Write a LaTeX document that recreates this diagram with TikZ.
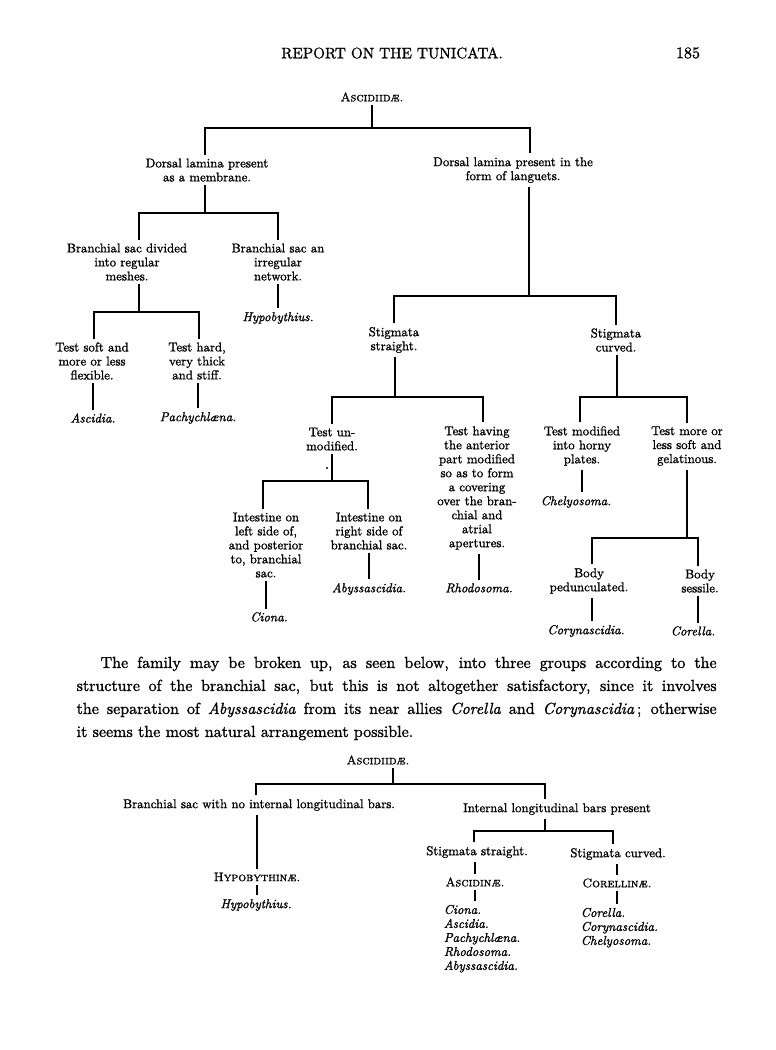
\documentclass[tikz,border=0pt]{standalone}
\usepackage{fontspec}
\setmainfont{lmroman10-regular.otf}[ItalicFont=lmroman10-italic.otf,
  SmallCapsFont=lmromancaps10-regular.otf, FakeBold=1.3]
\tikzset{
  lbl/.style={align=center, inner sep=3.2pt, font=\fontsize{12.8}{14}\selectfont},
  gen/.style={inner sep=3.2pt, font=\fontsize{12.8}{14}\selectfont\itshape},
  grp/.style={inner sep=3.2pt, font=\fontsize{12.4}{14}\selectfont\scshape},
}
\newcommand{\fork}[3]{
\draw (#2) |- (#1) -| (#3);}

\begin{document}
\begin{tikzpicture}[x=1pt, y=-1pt, line width=1.3pt]
\useasboundingbox (0,0) rectangle (776,1050);
\node (title) at (392,53) {\fontsize{15.2}{16}\selectfont REPORT ON THE TUNICATA.};
\node (page) at (688,53) {\fontsize{16}{17}\selectfont 185};

% first key
\node[grp] (asc) at (372,97) {Ascidiidæ.};
\coordinate (j1) at (372,128);
\node[lbl] (dm) at (207,170) {Dorsal lamina present\\as a membrane.};
\node[lbl] (dl) at (513,170) {Dorsal lamina present in the\\form of languets.};
\draw (asc.south) -- (j1);
\fork{j1}{[xshift=-2pt]dm.north}{[xshift=17pt]dl.north}

\coordinate (j2) at (205,213);
\node[lbl] (bs) at (127,262) {Branchial sac divided\\into regular\\meshes.};
\node[lbl] (bi) at (278,262) {Branchial sac an\\irregular\\network.};
\draw (dm.south -| j2) -- (j2);
\fork{j2}{[xshift=12pt]bs.north}{bi.north}
\node[gen] (hyp) at (278,318) {Hypobythius.};
\draw (bi.south) -- (bi.south |- hyp.north);

\coordinate (j3) at (139,312);
\node[lbl] (ts) at (92,361) {Test soft and\\more or less\\flexible.};
\node[lbl] (th) at (197,361) {Test hard,\\very thick\\and stiff.};
\draw (bs.south -| j3) -- (j3);
\fork{j3}{[xshift=2pt]ts.north}{[xshift=2pt]th.north}
\node[gen] (asci) at (93,418) {Ascidia.};
\node[gen] (pach) at (198,418) {Pachychlæna.};
\draw (asci.north) -- (asci.north |- ts.south);
\draw (pach.north) -- (pach.north |- th.south);

% languets side
\coordinate (j4) at (529,296);
\draw (dl.south -| j4) -- (j4);
\node[lbl] (ss) at (394,340) {Stigmata\\straight.};
\node[lbl] (sc) at (616,340) {Stigmata\\curved.};
\fork{j4}{ss.north}{sc.north}

\coordinate (j5) at (395,397);
\coordinate (j6) at (617,397);
\draw (ss.south -| j5) -- (j5);
\draw (sc.south -| j6) -- (j6);
\node[lbl] (tu) at (332,439) {Test un-\\modified.};
\node[lbl] (tha) at (477,488) {Test having\\the anterior\\part modified\\so as to form\\a covering\\over the bran-\\chial and\\atrial\\apertures.};
\fork{j5}{tu.north}{[xshift=6pt]tha.north}
\node[lbl] (tm) at (582,446) {Test modified\\into horny\\plates.};
\node[lbl] (tg) at (687,446) {Test more or\\less soft and\\gelatinous.};
\fork{j6}{[xshift=-2pt]tm.north}{tg.north}

\coordinate (j7) at (332,481);
\draw (tu.south -| j7) -- (j7);
\fill (327,468) circle (1.2pt);
\node[lbl] (il) at (266,545) {Intestine on\\left side of,\\and posterior\\to, branchial\\sac.};
\node[lbl] (ir) at (369,531) {Intestine on\\right side of\\branchial sac.};
\fork{j7}{[xshift=-3pt]il.north}{[xshift=-1pt]ir.north}
\node[gen] (ciona) at (269,617) {Ciona.};
\draw (il.south) -- (il.south |- ciona.north);
\node[gen] (abys) at (369,589) {Abyssascidia.};
\draw (ir.south) -- (ir.south |- abys.north);
\node[gen] (rhodo) at (479,588) {Rhodosoma.};
\draw (rhodo.north) -- (rhodo.north |- tha.south);

\node[gen] (chely) at (576,502) {Chelyosoma.};
\draw (tm.south) -- (tm.south |- chely.north);
\coordinate (j8) at (687,538);
\draw (tg.south -| j8) -- (j8);
\node[lbl] (bp) at (589,581) {Body\\pedunculated.};
\node[lbl] (bse) at (700,581) {Body\\sessile.};
\fork{j8}{[xshift=3pt]bp.north}{[xshift=-2pt]bse.north}
\node[gen] (coryn) at (586,631) {Corynascidia.};
\node[gen] (corel) at (693,631) {Corella.};
\draw ([xshift=3pt]bp.south) -- ([xshift=3pt]bp.south |- coryn.north);
\draw ([xshift=-2pt]bse.south) -- ([xshift=-2pt]bse.south |- corel.north);

% text between the keys
\node[anchor=north west, inner sep=0pt, text width=640pt, align=justify,
  font=\fontsize{16}{23}\selectfont] (para) at (76,656) {\hspace*{24pt}The family may be broken up, as seen below, into three groups according to the\linebreak structure of the branchial sac, but this is not altogether satisfactory, since it involves\linebreak the separation of \textit{Abyssascidia} from its near allies \textit{Corella} and \textit{Corynascidia}\,; otherwise\linebreak it seems the most natural arrangement possible.};

% second key
\node[grp] (asc2) at (378,760) {Ascidiidæ.};
\coordinate (j9) at (393,784);
\draw (asc2.south -| j9) -- (j9);
\node[lbl] (nb) at (259,805) {Branchial sac with no internal longitudinal bars.};
\node[lbl] (ip) at (557,809) {Internal longitudinal bars present};
\fork{j9}{[xshift=-3pt]nb.north}{[xshift=-12pt]ip.north}
\node[grp] (hypo) at (257,877) {Hypobythinæ.};
\node[gen] (hyp2) at (256,905) {Hypobythius.};
\draw (hypo.north) -- (hypo.north |- nb.south);
\draw (hypo.south) -- (hypo.south |- hyp2.north);

\coordinate (j10) at (545,831);
\draw (ip.south -| j10) -- (j10);
\node[lbl] (ss2) at (477,852) {Stigmata straight.};
\node[lbl] (sc2) at (618,854) {Stigmata curved.};
\fork{j10}{[xshift=-3pt]ss2.north}{[xshift=-5pt]sc2.north}
\node[grp] (ascn) at (475,882) {Ascidinæ.};
\node[grp] (corn) at (617,883) {Corellinæ.};
\draw (ascn.north) -- (ascn.north |- ss2.south);
\draw (corn.north) -- (corn.north |- sc2.south);
\node[gen, align=left, anchor=north west] (lst1) at (440,901) {Ciona.\\Ascidia.\\Pachychlæna.\\Rhodosoma.\\Abyssascidia.};
\draw (ascn.south) -- (ascn.south |- lst1.north);
\node[gen, align=left, anchor=north west] (lst2) at (577,904) {Corella.\\Corynascidia.\\Chelyosoma.};
\draw (corn.south) -- (corn.south |- lst2.north);
\end{tikzpicture}
\end{document}
